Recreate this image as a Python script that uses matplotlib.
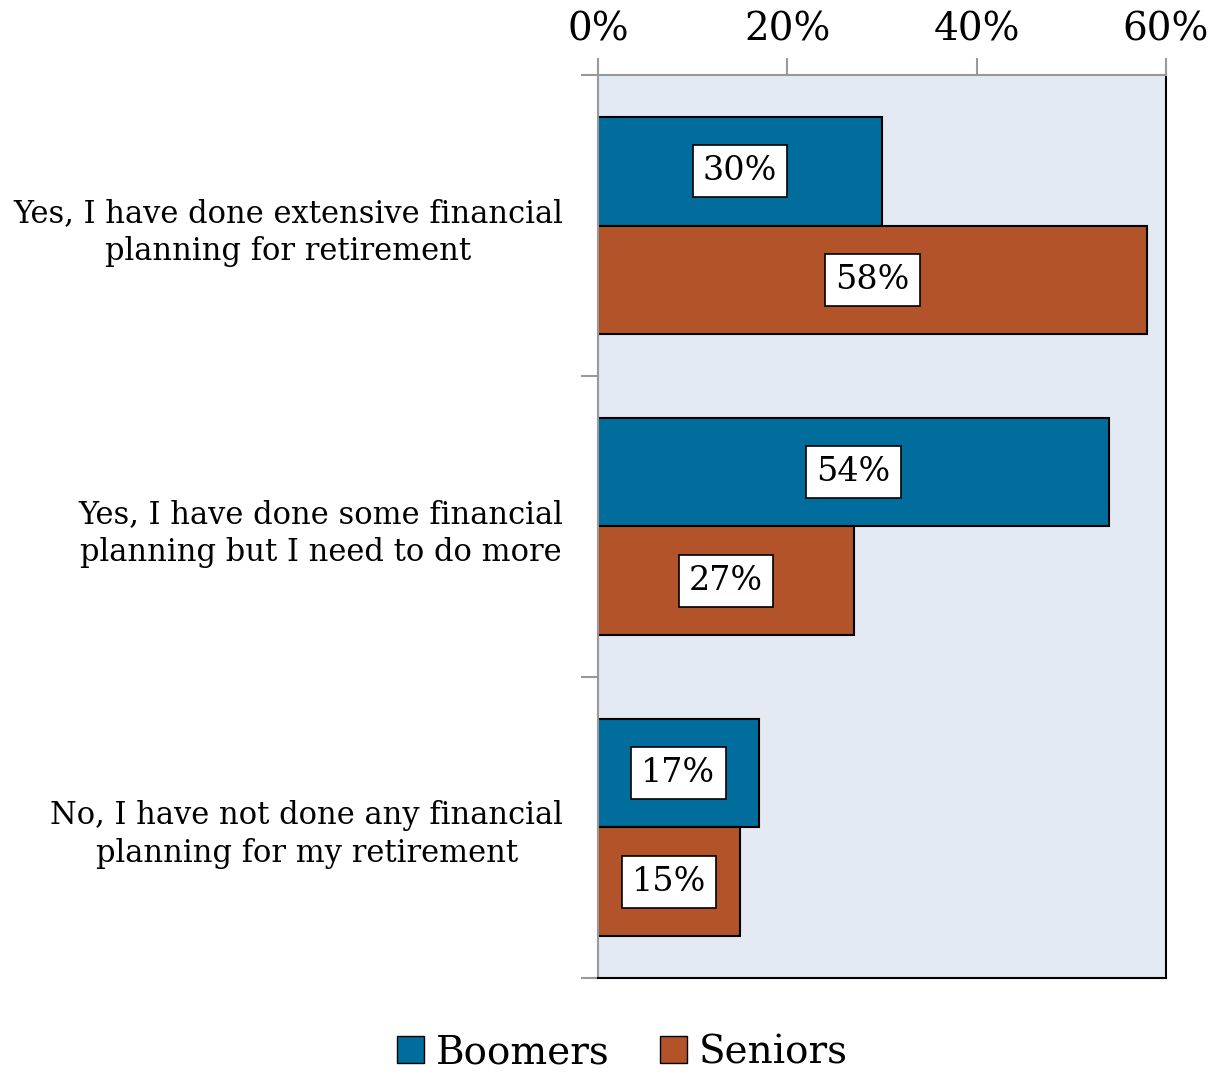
import numpy as np
import matplotlib.pyplot as plt
from matplotlib.patches import Patch

plt.rcParams['font.family'] = ['DejaVu Serif']

categories = ["Yes, I have done extensive financial\nplanning for retirement",
              "Yes, I have done some financial\nplanning but I need to do more",
              "No, I have not done any financial\nplanning for my retirement"]
boomers = [30, 54, 17]
seniors = [58, 27, 15]
series_names = ["Boomers", "Seniors"]
blue = "#006D9C"
orange = "#B3532A"

fig = plt.figure(figsize=(12.2, 10.78), dpi=100)
ax = fig.add_axes([0.4902, 0.0928, 0.4655, 0.8376])
ax.set_facecolor("#E3EAF4")

pos = np.arange(len(categories))
h = 0.362
b1 = ax.barh(pos - h / 2, boomers, height=h, color=blue, edgecolor="black", linewidth=1.5)
b2 = ax.barh(pos + h / 2, seniors, height=h, color=orange, edgecolor="black", linewidth=1.5)

for bars, vals in [(b1, boomers), (b2, seniors)]:
    for bar, v in zip(bars, vals):
        ax.text(bar.get_width() / 2, bar.get_y() + bar.get_height() / 2, f"{v}%",
                ha="center", va="center", fontsize=24,
                bbox=dict(boxstyle="square,pad=0.3", fc="white", ec="black", lw=1.2))

ax.set_xlim(0, 60)
ax.set_ylim(len(categories) - 0.5, -0.5)
ax.set_xticks([0, 20, 40, 60])
ax.set_xticklabels(["0%", "20%", "40%", "60%"], fontsize=28)
ax.xaxis.tick_top()
ax.tick_params(axis="x", direction="out", length=12, color="#999999", width=1.5, pad=7)

ax.set_yticks(pos)
ax.set_yticklabels(categories, fontsize=22, multialignment="center", linespacing=1.3)
ax.tick_params(axis="y", length=0, pad=25)
ax.set_yticks(np.arange(len(categories) + 1) - 0.5, minor=True)
ax.tick_params(axis="y", which="minor", length=12, color="#999999", width=1.5)

for s in ["top", "left"]:
    ax.spines[s].set_color("#999999")
    ax.spines[s].set_linewidth(1.5)
for s in ["right", "bottom"]:
    ax.spines[s].set_color("black")
    ax.spines[s].set_linewidth(1.5)

handles = [Patch(facecolor=blue, edgecolor="black"), Patch(facecolor=orange, edgecolor="black")]
fig.legend(handles, series_names, loc="lower center", bbox_to_anchor=(0.51, -0.026), ncol=2,
           frameon=False, fontsize=28, handlelength=0.7, handleheight=0.7,
           handletextpad=0.3, columnspacing=1.3)

fig.savefig("out.png", dpi=100)
